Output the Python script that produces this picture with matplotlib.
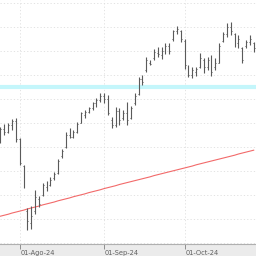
import matplotlib
matplotlib.use("Agg")
import matplotlib.pyplot as plt
import matplotlib.transforms as mtransforms
import numpy as np
import pandas as pd

dates = pd.bdate_range("2024-07-25", periods=67)

highs = [24.83, 24.93, 24.97, 25.14, 25.18, 24.35, 23.23, 21.44, 21.52, 22.20,
         21.94, 22.48, 22.57, 22.73, 22.94, 23.48, 23.90, 24.61, 24.76, 24.69,
         25.04, 25.45, 25.52, 25.66, 25.87, 26.01, 26.22, 26.23, 26.15, 25.25,
         25.66, 25.60, 25.52, 25.87, 25.69, 26.22, 26.90, 26.98, 27.75, 27.61,
         28.05, 28.15, 28.16, 28.33, 28.32, 28.88, 29.03, 28.86, 28.48, 27.40,
         27.33, 27.33, 27.89, 27.68, 27.75, 27.82, 27.68, 28.30, 28.79, 29.14,
         29.20, 28.72, 28.65, 28.16, 28.44, 28.65, 28.37]
lows = [24.14, 24.48, 24.55, 24.69, 24.20, 23.23, 22.26, 20.54, 20.58, 21.19,
        21.48, 21.94, 22.15, 22.36, 22.61, 22.86, 23.52, 23.94, 24.35, 24.35,
        24.55, 24.97, 25.18, 25.39, 25.52, 25.66, 25.87, 25.82, 25.32, 24.76,
        24.83, 24.90, 25.11, 24.90, 25.14, 25.73, 26.15, 26.57, 27.11, 27.40,
        27.61, 27.75, 27.65, 27.86, 27.86, 28.42, 28.69, 28.37, 27.23, 26.91,
        26.85, 26.94, 27.26, 27.05, 27.19, 26.94, 27.19, 27.47, 28.37, 28.58,
        28.65, 28.16, 28.10, 27.47, 28.10, 28.23, 27.95]
opens = [24.20, 24.75, 24.60, 24.90, 25.05, 24.30, 23.20, 21.30, 20.80, 21.30,
         21.80, 22.00, 22.30, 22.40, 22.70, 22.90, 23.60, 24.00, 24.50, 24.40,
         24.60, 25.00, 25.30, 25.45, 25.60, 25.80, 25.95, 26.10, 26.00, 25.10,
         24.90, 25.50, 25.20, 25.40, 25.20, 25.80, 26.20, 26.80, 27.20, 27.50,
         27.70, 27.90, 27.80, 28.00, 28.20, 28.50, 28.80, 28.80, 28.40, 27.30,
         27.00, 27.10, 27.30, 27.60, 27.30, 27.60, 27.30, 27.50, 28.40, 28.70,
         29.00, 28.70, 28.30, 28.10, 28.20, 28.35, 28.30]
closes = [24.75, 24.60, 24.90, 25.05, 24.30, 23.30, 22.40, 20.90, 21.10, 21.90,
          21.60, 22.40, 22.50, 22.60, 22.85, 23.40, 23.80, 24.50, 24.40, 24.60,
          24.95, 25.40, 25.45, 25.60, 25.80, 25.95, 26.10, 26.00, 25.40, 24.90,
          25.50, 25.10, 25.40, 25.10, 25.60, 26.10, 26.80, 26.70, 27.60, 27.45,
          27.95, 27.85, 28.00, 28.20, 28.00, 28.80, 28.90, 28.50, 27.40, 27.00,
          27.20, 27.25, 27.70, 27.30, 27.60, 27.10, 27.50, 28.20, 28.70, 29.00,
          28.80, 28.30, 28.50, 27.60, 28.35, 28.50, 28.10]
ma_long = [21.10, 21.14, 21.18, 21.23, 21.27, 21.31, 21.35, 21.40, 21.44, 21.48,
           21.52, 21.57, 21.61, 21.65, 21.69, 21.74, 21.78, 21.82, 21.86, 21.91,
           21.95, 21.99, 22.03, 22.08, 22.12, 22.16, 22.20, 22.25, 22.29, 22.33,
           22.37, 22.42, 22.46, 22.50, 22.54, 22.58, 22.62, 22.66, 22.70, 22.74,
           22.79, 22.83, 22.87, 22.91, 22.95, 22.99, 23.03, 23.07, 23.11, 23.15,
           23.19, 23.24, 23.28, 23.32, 23.36, 23.40, 23.44, 23.48, 23.52, 23.56,
           23.60, 23.64, 23.69, 23.73, 23.77, 23.81, 23.85]
level = 26.47
tick_labels = ["01-Ago-24", "01-Sep-24", "01-Oct-24"]

fig = plt.figure(figsize=(2.56, 2.56), dpi=100, facecolor="#ebebeb")
ax = fig.add_axes([0, 12 / 256, 1, 244 / 256])
ax.set_facecolor("white")

x = np.arange(len(dates))
ax.set_xlim(-0.13, 66.6)
ax.set_ylim(19.94, 30.11)

# grid
ax.yaxis.set_visible(False)
for yv in np.arange(20, 31, 1):
    ax.axhline(yv, color="#dedede", lw=0.6, ls=(0, (1.5, 2.5)), zorder=0)

month_idx = [int(np.argmax((dates.month == m) & (dates.year == 2024))) for m in (8, 9, 10)]
for xi in month_idx:
    ax.axvline(xi, color="#dedede", lw=0.6, ls=(0, (1.5, 2.5)), zorder=0)

# horizontal level band
ax.axhline(level, color="#c4f6fb", lw=3.0, zorder=1)

# moving average
ax.plot(x, ma_long, color="#f26a6a", lw=0.8, zorder=2)

# OHLC bars
barc = "#5a5a5a"
ax.vlines(x, lows, highs, color=barc, lw=0.8, zorder=3)
ax.hlines(opens, x - 0.25, x, color=barc, lw=0.7, zorder=3)
ax.hlines(closes, x, x + 0.25, color=barc, lw=0.7, zorder=3)

# x axis
for s in ("left", "right", "top"):
    ax.spines[s].set_visible(False)
ax.spines["bottom"].set_color("#b0b0b0")
ax.spines["bottom"].set_linewidth(0.8)
ax.set_xticks(month_idx)
ax.set_xticklabels(tick_labels, fontsize=4.8, color="#606060", ha="left")
ax.tick_params(axis="x", direction="out", length=3.5, width=0.6, color="#808080", pad=0.5)
offset = mtransforms.ScaledTranslation(1.0 / 100, 0, fig.dpi_scale_trans)
for lab in ax.get_xticklabels():
    lab.set_transform(lab.get_transform() + offset)

fig.savefig("out.png", dpi=100, facecolor=fig.get_facecolor())
